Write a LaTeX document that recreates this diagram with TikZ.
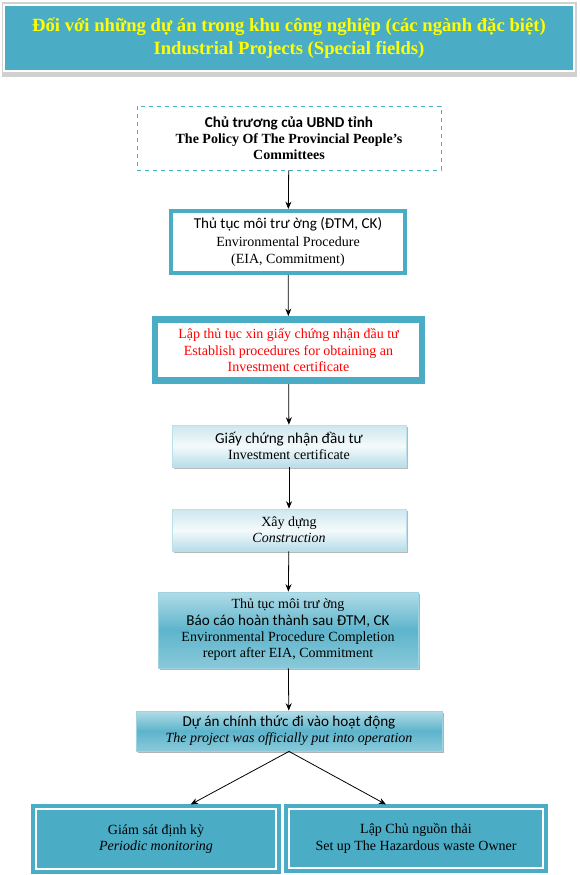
\documentclass[tikz,border=0pt]{standalone}
\usepackage{fontspec}
\setmainfont{Liberation Serif}
\newfontfamily\calfont[Scale=1.08]{Carlito}
\usepackage{xcolor}
\usetikzlibrary{calc, arrows.meta, shadows}

\definecolor{tealbox}{HTML}{4BACC6}
\definecolor{tealpale}{HTML}{B7DDE8}
\definecolor{tealsoft}{HTML}{9FD3E1}
\definecolor{titleyellow}{HTML}{FFFF00}

\tikzset{
    basebox/.style={rectangle, align=center, inner sep=0pt,
        font=\fontsize{10.5}{12.2}\selectfont},
    dashbox/.style={basebox, draw=tealbox, dashed, line width=0.7pt, fill=white},
    thickbox/.style={basebox, draw=tealbox, line width=3pt, fill=white},
    redbox/.style={basebox, draw=tealbox, line width=4pt, fill=white, text=red},
    lightbox/.style={basebox, draw=tealsoft!70, line width=0.6pt,
        top color=tealpale!70, bottom color=tealpale,
        middle color=white!85!tealpale,
        drop shadow={shadow xshift=1.2pt, shadow yshift=-1.2pt, opacity=0.55}},
    darkbox/.style={basebox, draw=tealsoft, line width=0.6pt,
        top color=tealsoft!80, bottom color=tealbox!65, middle color=tealbox!90,
        drop shadow={shadow xshift=1.2pt, shadow yshift=-1.2pt, opacity=0.6}},
    fillbox/.style={basebox, draw=tealbox, line width=0.8pt, fill=tealbox},
    flow/.style={->, line width=0.6pt},
}

\begin{document}
\begin{tikzpicture}[x=0.75pt, y=-0.75pt, >={Stealth[length=5.5pt, width=4.5pt]}]
    \useasboundingbox (0,0) rectangle (579,875);

    % title
    \fill[black!18] (2,2) rectangle (577,77);
    \node[basebox, fill=tealbox, draw=white, line width=1.5pt,
        minimum width=427pt, minimum height=50pt, text=titleyellow,
        font=\fontsize{14}{17}\selectfont\bfseries] (title) at (289,38)
        {Đối với những dự án trong khu công nghiệp (các ngành đặc biệt)\\
         Industrial Projects (Special fields)};

    % steps
    \node[dashbox, minimum width=228pt, minimum height=48pt] (b1) at (289,138)
        {{\calfont\bfseries Chủ trương của UBND tỉnh}\\
         \textbf{The Policy Of The Provincial People's}\\
         \textbf{Committees}};
    \node[thickbox, minimum width=175.5pt, minimum height=46.5pt,
        font=\fontsize{10.5}{13}\selectfont] (b2) at (288,242)
        {{\calfont Thủ tục môi trư ờng (ĐTM, CK)}\\
         Environmental Procedure\\
         (EIA, Commitment)};
    \node[redbox, minimum width=201pt, minimum height=47pt] (b3) at (288.5,350)
        {Lập thủ tục xin giấy chứng nhận đầu tư\\
         Establish procedures for obtaining an\\
         Investment certificate};
    \draw[tealbox, line width=0.8pt] ($(b3.north west)+(6,6)$) rectangle ($(b3.south east)+(-6,-6)$);
    \node[lightbox, minimum width=175.5pt, minimum height=31.5pt] (b4) at (289,446)
        {{\calfont Giấy chứng nhận đầu tư}\\
         Investment certificate};
    \node[lightbox, minimum width=175.5pt, minimum height=31.5pt] (b5) at (289,530)
        {Xây dựng\\
         \textit{Construction}};
    \node[darkbox, minimum width=195pt, minimum height=57pt] (b6) at (288,630)
        {Thủ tục môi trư ờng\\
         {\calfont Báo cáo hoàn thành sau ĐTM, CK}\\
         Environmental Procedure Completion\\
         report after EIA, Commitment};
    \node[darkbox, minimum width=229.5pt, minimum height=30pt] (b7) at (289,731)
        {{\calfont Dự án chính thức đi vào hoạt động}\\
         \textit{The project was officially put into operation}};

    % the two outcomes
    \node[fillbox, minimum width=186pt, minimum height=51pt] (b8) at (156,839)
        {Giám sát định kỳ\\
         \textit{Periodic monitoring}};
    \node[fillbox, minimum width=196.5pt, minimum height=50.25pt] (b9) at (416,838.5)
        {Lập Chủ nguồn thải\\
         Set up The Hazardous waste Owner};
    \foreach \b in {b8,b9}
        \draw[white, line width=1.5pt] ($(\b.north west)+(5,5)$) rectangle ($(\b.south east)+(-5,-5)$);

    % arrows
    \draw[flow] (b1) -- (b2);
    \draw[flow] (b2) -- (b3);
    \draw[flow] (b3) -- (b4);
    \draw[flow] (b4) -- (b5);
    \draw[flow] (b5) -- (b6);
    \draw[flow] (b6) -- (b7);
    \draw[flow] (b7.south) -- ([xshift=26pt]b8.north);
    \draw[flow] (b7.south) -- ([xshift=-22.5pt]b9.north);
\end{tikzpicture}
\end{document}
